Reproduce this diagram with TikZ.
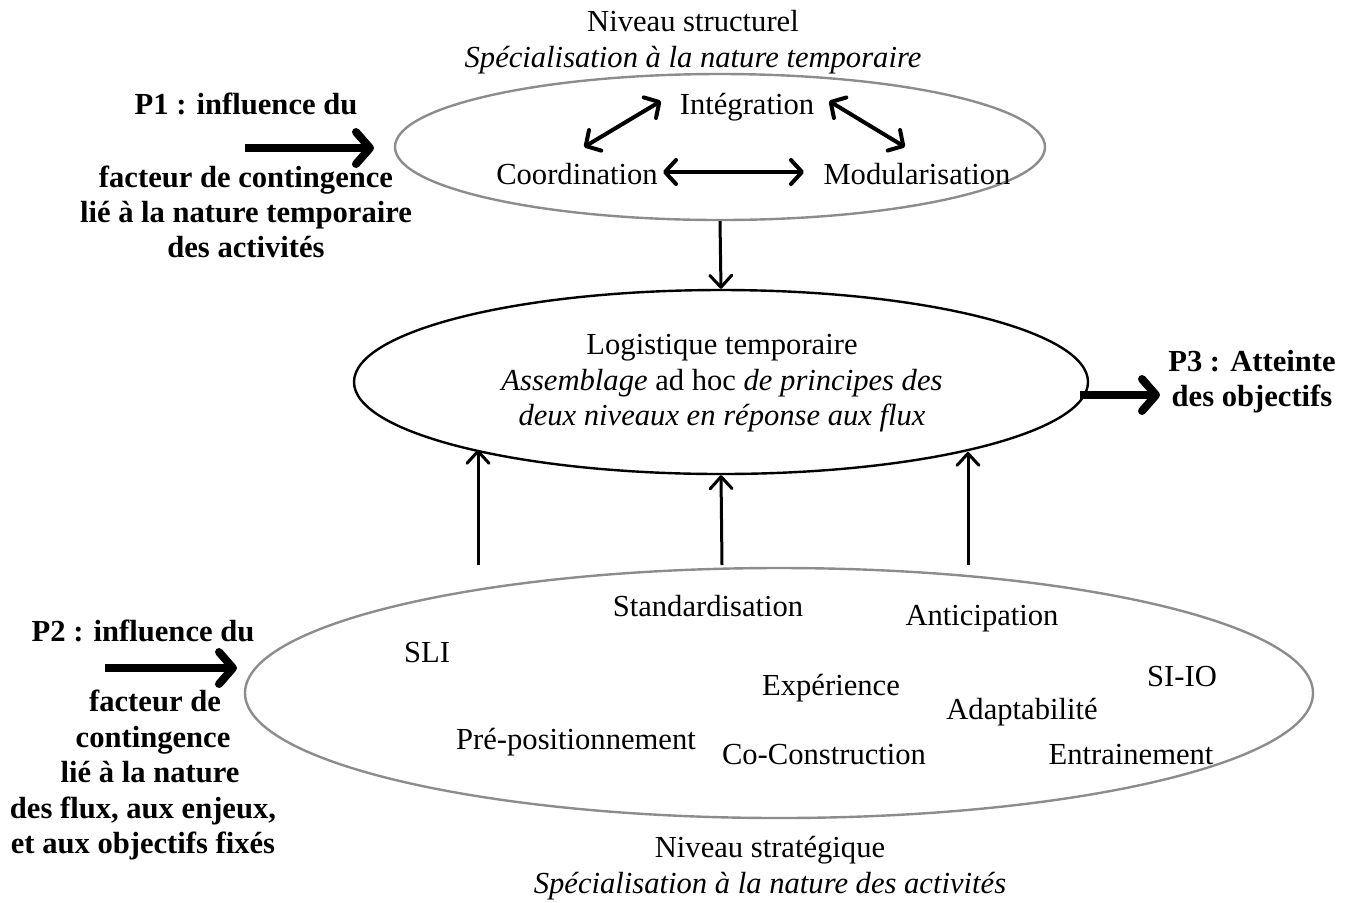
\documentclass[tikz,border=0pt]{standalone}
\usepackage{fontspec}
\setmainfont{Liberation Serif}
\usetikzlibrary{arrows.meta,shapes.geometric}
\definecolor{ellgray}{RGB}{140,140,140}
\begin{document}
\begin{tikzpicture}[x=0.5pt,y=-0.5pt,
  txt/.style={font=\fontsize{15.3}{17.5}\selectfont, inner sep=0pt, text height=12pt, text depth=3pt},
  btxt/.style={txt, font=\fontsize{15.3}{17.5}\selectfont\bfseries},
  ell/.style={ellipse, inner sep=0pt, line width=1.2pt},
  thinarrow/.style={line width=1.5pt, -{Straight Barb[length=6pt,width=11pt,round]}},
  dblarrow/.style={line width=2pt, {Straight Barb[length=5.5pt,width=12pt,round]}-{Straight Barb[length=5.5pt,width=12pt,round]}},
  bigarrow/.style={line width=4pt, -{Straight Barb[length=7pt,width=16pt,round]}}
]
\useasboundingbox (0,0) rectangle (1350,902);

% ellipses
\node[ell, draw=ellgray, minimum width=325pt, minimum height=73pt] (top) at (720,147) {};
\node[ell, draw=black, minimum width=367pt, minimum height=92pt] (mid) at (721,382) {};
\node[ell, draw=ellgray, minimum width=534pt, minimum height=125pt] (bot) at (779,693) {};

% top level texts
\node[txt] (ns) at (693,22) {Niveau structurel};
\node[txt] (nsi) at (693,58) {\itshape Spécialisation à la nature temporaire};
\node[txt] (integ) at (747,105) {Intégration};
\node[txt] (coord) at (577,175) {Coordination};
\node[txt] (modul) at (917,175) {Modularisation};

\coordinate (ci1) at (584,147);
\coordinate (ci2) at (661,101);
\coordinate (im1) at (829,101);
\coordinate (im2) at (905,147);
\coordinate (cm1) at (663,172);
\coordinate (cm2) at (804,172);
\draw[dblarrow] (ci1) -- (ci2);
\draw[dblarrow] (im1) -- (im2);
\draw[dblarrow] (cm1) -- (cm2);

\draw[thinarrow] (top.south) -- (mid.north);

% middle texts
\node[txt] (lt) at (722,345) {Logistique temporaire};
\node[txt] (lt2) at (722,381) {\textit{Assemblage} ad hoc \textit{de principes des}};
\node[txt] (lt3) at (722,416) {\itshape deux niveaux en réponse aux flux};

% P1
\node[btxt] (p1a) at (246,105) {P1 : influence du};
\node[btxt] (p1b) at (246,178) {facteur de contingence};
\node[btxt] (p1c) at (246,213) {lié à la nature temporaire};
\node[btxt] (p1d) at (246,248) {des activités};
\coordinate (p1s) at (245,148);
\coordinate (p1e) at (374,148);
\draw[bigarrow] (p1s) -- (p1e);

% P3
\node[btxt] (p3a) at (1252,362) {P3 : Atteinte};
\node[btxt] (p3b) at (1252,397) {des objectifs};
\coordinate (p3s) at (1080,395);
\coordinate (p3e) at (1160,395);
\draw[bigarrow] (p3s) -- (p3e);

% P2
\node[btxt] (p2a) at (143,632) {P2 : influence du};
\node[btxt] (p2b) at (155,702) {facteur de};
\node[btxt] (p2c) at (153,738) {contingence};
\node[btxt] (p2d) at (150,773) {lié à la nature};
\node[btxt] (p2e) at (143,809) {des flux, aux enjeux,};
\node[btxt] (p2f) at (143,844) {et aux objectifs fixés};
\coordinate (p2s) at (105,668);
\coordinate (p2e2) at (237,668);
\draw[bigarrow] (p2s) -- (p2e2);

% up arrows
\coordinate (u1) at (478,565);
\coordinate (u2) at (722,565);
\coordinate (u3) at (968,565);
\draw[thinarrow] (u1) -- (u1 |- mid.195.9);
\draw[thinarrow] (u2) -- (mid.south);
\draw[thinarrow] (u3) -- (u3 |- mid.344.6);

% bottom texts
\node[txt] (sli) at (427,653) {SLI};
\node[txt] (std) at (708,607) {Standardisation};
\node[txt] (ant) at (982,616) {Anticipation};
\node[txt] (exp) at (831,686) {Expérience};
\node[txt] (siio) at (1182,677) {SI-IO};
\node[txt] (adap) at (1022,710) {Adaptabilité};
\node[txt] (prep) at (576,740) {Pré-positionnement};
\node[txt] (cocon) at (824,755) {Co-Construction};
\node[txt] (entr) at (1131,755) {Entrainement};

\node[txt] (nst) at (770,848) {Niveau stratégique};
\node[txt] (nsti) at (770,884) {\itshape Spécialisation à la nature des activités};
\end{tikzpicture}
\end{document}
